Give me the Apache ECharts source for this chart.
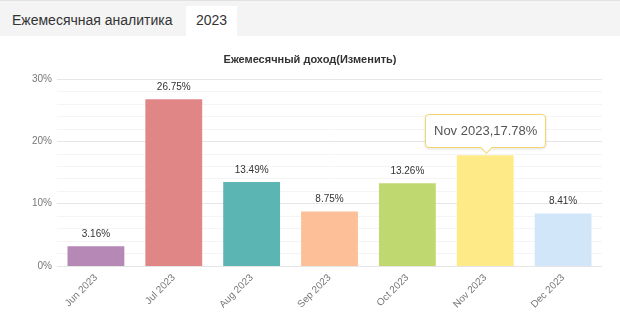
<!DOCTYPE html>
<html>
<head>
<meta charset="utf-8">
<script src="https://cdn.jsdelivr.net/npm/echarts@6/dist/echarts.min.js"></script>
<style>
  html, body { margin:0; padding:0; background:#fff; font-family: Arial, "Liberation Sans", sans-serif; }
  .tabs { position:absolute; left:0; top:0; width:620px; height:36px; background:#f4f4f4; border-top:1px solid #e2e2e2; box-sizing:border-box; }
  .tab { position:absolute; top:5px; height:31px; line-height:28px; font-size:14px; color:#333; }
  .tab.t1 { left:12px; }
  .tab.t2 { left:186px; width:51px; background:#fff; text-align:center; }
  #chart { position:absolute; left:0; top:36px; width:620px; height:283px; }
  .arrow { position:absolute; left:50%; bottom:-5px; margin-left:-4px; width:8px; height:8px; background:#fff;
           border-right:1px solid #f1d46a; border-bottom:1px solid #f1d46a; transform:rotate(45deg); }
</style>
</head>
<body>
<div class="tabs">
  <div class="tab t1">Ежемесячная аналитика</div>
  <div class="tab t2">2023</div>
</div>
<div id="chart"></div>
<script>
  // данные
  var months = ['Jun 2023','Jul 2023','Aug 2023','Sep 2023','Oct 2023','Nov 2023','Dec 2023'];
  var values = [3.16, 26.75, 13.49, 8.75, 13.26, 17.78, 8.41];
  var colors = ['#b688b6','#e08686','#5bb5b3','#fdbf98','#bfd870','#feea87','#d2e6f9'];

  var myChart = echarts.init(document.getElementById('chart'));
  var option = {
    animation:false,
    title:{
      text:'Ежемесячный доход(Изменить)',
      left:'center',
      top:13,
      textStyle:{fontSize:11, fontWeight:'bold', color:'#333'}
    },
    tooltip:{
      trigger:'item',
      alwaysShowContent:true,
      backgroundColor:'#fff',
      borderColor:'#f1d46a',
      borderWidth:1,
      padding:[6,8],
      textStyle:{fontSize:13, color:'#555'},
      extraCssText:'box-shadow:0 1px 3px rgba(0,0,0,0.12);overflow:visible;',
      position:function(point, params, dom, rect, size){
        // над столбиком, по центру
        return [rect.x + rect.width/2 - size.contentSize[0]/2, rect.y - size.contentSize[1] - 7];
      },
      formatter:function(p){ return p.name + ',' + p.value + '%<div class="arrow"></div>'; }
    },
    grid:{left:57, right:18, top:43, bottom:53},
    xAxis:{
      type:'category',
      data:months,
      axisLine:{show:false},
      axisTick:{show:false},
      axisLabel:{rotate:45, fontSize:10, color:'#777', interval:0, margin:10}
    },
    yAxis:{
      type:'value',
      min:0, max:30, interval:10,
      axisLabel:{formatter:'{value}%', fontSize:10, color:'#777', margin:5},
      splitLine:{lineStyle:{color:'#e6e6e6'}},
      minorTick:{show:false, splitNumber:5},
      minorSplitLine:{show:true, lineStyle:{color:'#f4f4f4'}}
    },
    series:[{
      type:'bar',
      barWidth:'73%',
      data:values.map(function(v,i){ return {value:v, itemStyle:{color:colors[i]}}; }),
      label:{show:true, position:'top', formatter:'{c}%', fontSize:10, color:'#333', distance:7}
    }]
  };
  myChart.setOption(option);
  myChart.dispatchAction({type:'showTip', seriesIndex:0, dataIndex:5});
</script>
</body>
</html>
